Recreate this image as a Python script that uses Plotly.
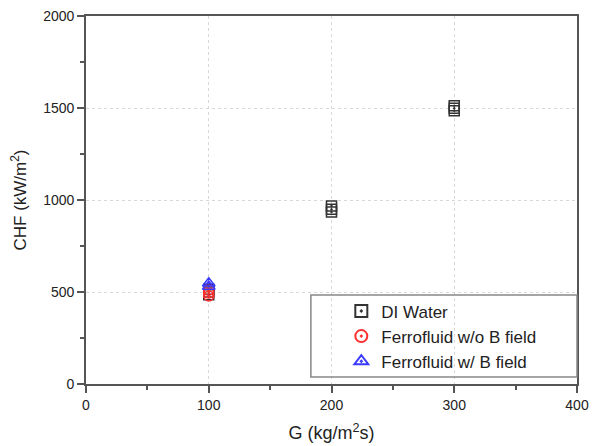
import plotly.graph_objects as go

di_g = [100, 100, 100, 200, 200, 200, 300, 300, 300]
di_chf = [485, 500, 515, 935, 950, 968, 1485, 1498, 1512]
ff_g = [100, 100, 100]
ff_chf = [478, 495, 510]
ffb_g = [100, 100]
ffb_chf = [530, 548]

FONT = "Liberation Sans, Arial"

fig = go.Figure()
fig.add_trace(go.Scatter(x=di_g, y=di_chf, mode="markers", name="DI Water",
                         marker=dict(symbol="square-open-dot", size=10, color="#333333",
                                     line=dict(width=1.5))))
fig.add_trace(go.Scatter(x=ff_g, y=ff_chf, mode="markers", name="Ferrofluid w/o B field",
                         marker=dict(symbol="circle-open-dot", size=10, color="#ff3030",
                                     line=dict(width=1.5))))
fig.add_trace(go.Scatter(x=ffb_g, y=ffb_chf, mode="markers", name="Ferrofluid w/ B field",
                         marker=dict(symbol="triangle-up-open-dot", size=11, color="#3a3aff",
                                     line=dict(width=1.5))))

axis_common = dict(showline=True, linecolor="#555555", linewidth=1.8, mirror=True,
                   ticks="outside", ticklen=7, tickwidth=1.5, tickcolor="#555555",
                   showgrid=True, gridcolor="#d8d8d8", griddash="dot", gridwidth=1,
                   zeroline=False, automargin=False, ticklabeloverflow="allow",
                   tickfont=dict(family=FONT, size=14, color="#222222"),
                   minor=dict(ticks="outside", ticklen=4, tickwidth=1.5, tickcolor="#555555", showgrid=False))

fig.update_xaxes(range=[0, 400], dtick=100, tick0=0,
                 title=dict(text="G (kg/m<sup>2</sup>s)", font=dict(family=FONT, size=18, color="#222222")),
                 minor_dtick=50, **axis_common)
fig.update_yaxes(range=[0, 2000], dtick=500, tick0=0,
                 title=dict(text="CHF (kW/m<sup>2</sup>)", font=dict(family=FONT, size=17, color="#222222")),
                 minor_dtick=250, **axis_common)

fig.add_shape(type="rect", xref="paper", yref="paper", x0=0.458, x1=1.0, y0=0.019, y1=0.242,
              line=dict(color="#888888", width=1.5), fillcolor="rgba(0,0,0,0)", layer="above")

fig.update_layout(width=589, height=438, margin=dict(l=78, r=20, t=8, b=62),
                  plot_bgcolor="white", paper_bgcolor="white",
                  legend=dict(x=0.52, y=0.246, xanchor="left", yanchor="top",
                              borderwidth=0, bgcolor="rgba(0,0,0,0)",
                              font=dict(family=FONT, size=17, color="#222222"),
                              itemsizing="constant", tracegroupgap=0),
                  showlegend=True)

fig.write_html("out.html")
